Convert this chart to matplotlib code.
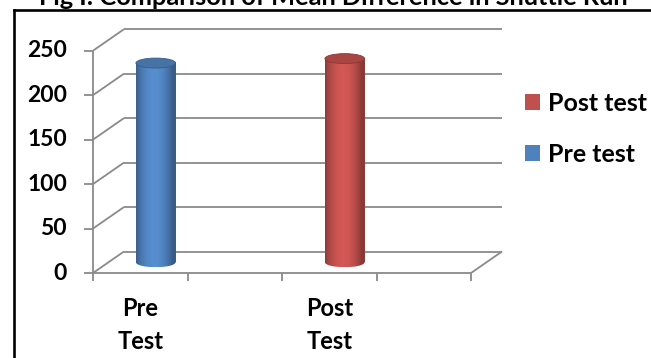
import numpy as np
import matplotlib
matplotlib.use("Agg")
import matplotlib.pyplot as plt
from matplotlib import transforms
from matplotlib.patches import Ellipse, Patch
from matplotlib.lines import Line2D
from matplotlib.colors import to_rgb

# ---- data ----
title = "Fig I: Comparison of Mean Difference in Shuttle Run"
categories = ["Pre\nTest", "", "Post\nTest", ""]
series_names = ["Pre test", "Post test"]
series_positions = [0, 2]
series_values = [224, 229]
series_colors = ["#4F81BD", "#C0504D"]
y_ticks = [0, 50, 100, 150, 200, 250]

W, H, DPI = 651, 358, 100
plt.rcParams['font.family'] = ['Lato', 'DejaVu Sans']
fig = plt.figure(figsize=(W / DPI, H / DPI), dpi=DPI)
fig.patch.set_facecolor("white")

# front plane of the 3-D box
ax = fig.add_axes([93 / W, 1 - 273 / H, 378 / W, (273 - 50.7) / H])
ax.axis("off")
xmin, xmax = -0.5, len(categories) - 0.5
ymin, ymax = y_ticks[0], y_ticks[-1]

def set_limits():
    ax.set_xlim(xmin, xmax)
    ax.set_ylim(ymin, ymax)
    ax.set_aspect("auto")

set_limits()

# pixels per data unit, used for the oblique depth offset
p0 = ax.transData.transform((0, 0))
p1 = ax.transData.transform((1, 1))
sx, sy = p1[0] - p0[0], p1[1] - p0[1]
ddx, ddy = 31 / sx, 21.5 / sy

grid = "#8A8A8A"
glw = 1.3
kw = dict(color=grid, lw=glw, clip_on=False, solid_capstyle="butt", zorder=1)

# back wall gridlines and left wall diagonals
for v in y_ticks:
    ax.plot([xmin + ddx, xmax + ddx], [v + ddy, v + ddy], **kw)
    ax.plot([xmin, xmin + ddx], [v, v + ddy], **kw)
# front edges of floor and value axis
ax.plot([xmin, xmax], [ymin, ymin], **kw)
ax.plot([xmax, xmax + ddx], [ymin, ymin + ddy], **kw)
ax.plot([xmin, xmin], [ymin, ymax], **kw)
# tick marks
for v in y_ticks:
    ax.plot([xmin - 9 / sx, xmin], [v, v], **kw)
for x in np.arange(xmin, xmax + 0.01, 1.0):
    ax.plot([x, x], [ymin, ymin - 8 / sy], **kw)

# tick labels
ylab_tr = transforms.offset_copy(ax.transData, fig=fig, x=-26, y=0, units="dots")
for v in y_ticks:
    ax.text(xmin, v, str(v), transform=ylab_tr, ha="right", va="center",
            fontsize=16.5, fontweight="bold", color="black")
xlab_tr = transforms.offset_copy(ax.transData, fig=fig, x=0, y=-52, units="dots")
for i, lab in enumerate(categories):
    if lab:
        ax.text(i, ymin, lab, transform=xlab_tr, ha="center", va="center",
                fontsize=17, fontweight="bold", color="black", linespacing=1.5)

# cylinders
bw = 0.42
eh = 10 / sy
t = np.linspace(0, 1, 256)
shade = 0.72 + 0.38 * np.sin(np.pi * np.clip(t * 1.1, 0, 1)) ** 0.8

for pos, val, col in zip(series_positions, series_values, series_colors):
    base = np.array(to_rgb(col))
    grad = np.clip(shade[:, None] * base[None, :], 0, 1)[None, :, :]
    cx = pos + ddx / 2
    y0 = ymin + ddy / 2
    y1 = val + ddy / 2
    x0, x1 = cx - bw / 2, cx + bw / 2
    ax.imshow(grad, extent=(x0, x1, y0, y1), aspect="auto", zorder=3,
              interpolation="bilinear", clip_on=False)
    bottom = Ellipse((cx, y0), bw, eh, transform=ax.transData)
    im = ax.imshow(grad, extent=(x0, x1, y0 - eh / 2, y0), aspect="auto",
                   zorder=3, interpolation="bilinear")
    im.set_clip_path(bottom)
    top = Ellipse((cx, y1), bw, eh, facecolor=base * 0.88, edgecolor=base * 0.72,
                  lw=0.6, zorder=4, clip_on=False)
    ax.add_patch(top)

set_limits()

# legend
handles = [Patch(facecolor=c, edgecolor="none", label=n)
           for n, c in zip(series_names[::-1], series_colors[::-1])]
ax.legend(handles=handles, loc="upper left", bbox_to_anchor=(525 / W, 1 - 92 / H),
          bbox_transform=fig.transFigure, frameon=False,
          prop=dict(weight="bold", size=18), handlelength=0.6, handleheight=0.6,
          handletextpad=0.32, labelspacing=1.1, borderpad=0, borderaxespad=0)

# title, mostly above the canvas
fig.text(333 / W, 1 - 5 / H, title, ha="center", va="baseline",
         fontsize=18.3, fontweight="bold", color="black")

# outer frame
fig.add_artist(Line2D([14 / W, 14 / W], [0, 1 - 10 / H], transform=fig.transFigure,
                      color="black", lw=1.9))
fig.add_artist(Line2D([14 / W, 1.0], [1 - 10 / H, 1 - 10 / H], transform=fig.transFigure,
                      color="black", lw=1.9))

fig.savefig("out.png", dpi=DPI, facecolor="white")
